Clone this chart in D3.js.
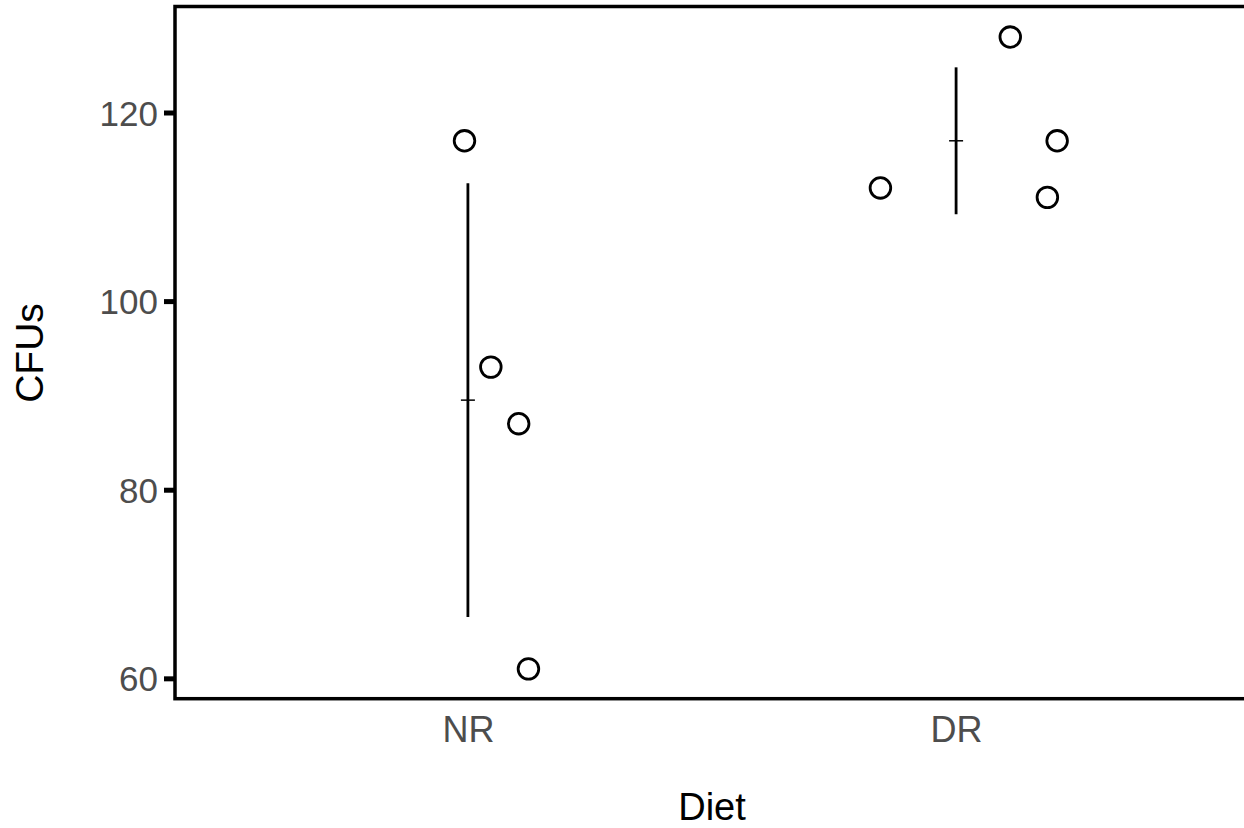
<!DOCTYPE html>
<html>
<head>
<meta charset="utf-8">
<script src="https://cdn.jsdelivr.net/npm/d3@7"></script>
<style>
  html, body { margin: 0; padding: 0; background: #fff; }
  svg { display: block; }
  text { font-family: "Liberation Sans", Arial, sans-serif; }
</style>
</head>
<body>
<svg id="chart" width="1244" height="828"></svg>
<script>
// ---- data ----
const categories = ["NR", "DR"];
const nrValues = [117, 93, 87, 61];
const drValues = [112, 128, 117, 111];
// horizontal jitter of each point (fraction of category step)
const nrJitter = [-0.007, 0.047, 0.104, 0.124];
const drJitter = [-0.155, 0.111, 0.207, 0.187];
const yTicks = [60, 80, 100, 120];
const yLimits = [57.84, 131.24];
const xTitle = "Diet";
const yTitle = "CFUs";

const points = [
  ...nrValues.map((v, i) => ({ cat: "NR", value: v, jit: nrJitter[i] })),
  ...drValues.map((v, i) => ({ cat: "DR", value: v, jit: drJitter[i] }))
];
const groups = [
  { cat: "NR", vals: nrValues },
  { cat: "DR", vals: drValues }
].map(g => {
  const m = d3.mean(g.vals), s = d3.deviation(g.vals);
  return { cat: g.cat, mean: m, lo: m - s, hi: m + s };
});

// ---- layout ----
const pLeft = 175, pRight = 1249, pTop = 6.5, pBottom = 698.7;
const svg = d3.select("#chart");

const x = d3.scalePoint().domain(categories).range([pLeft, pRight]).padding(0.6);
const y = d3.scaleLinear().domain(yLimits).range([pBottom, pTop]);

// y axis
const yAxis = svg.append("g")
  .attr("transform", `translate(${pLeft},0)`)
  .call(d3.axisLeft(y).tickValues(yTicks).tickSize(11).tickPadding(6));
yAxis.select(".domain").remove();
yAxis.selectAll(".tick line").attr("stroke", "#000").attr("stroke-width", 5);
yAxis.selectAll(".tick text")
  .attr("fill", "#4d4d4d").style("font-size", "35px").attr("dy", "0.36em");

// x axis (labels only)
const xAxis = svg.append("g")
  .attr("transform", `translate(0,${pBottom})`)
  .call(d3.axisBottom(x).tickSize(0).tickPadding(0));
xAxis.select(".domain").remove();
xAxis.selectAll(".tick text")
  .attr("fill", "#4d4d4d").style("font-size", "36px")
  .attr("dy", null).attr("y", 43);

// panel border
svg.append("rect")
  .attr("x", pLeft).attr("y", pTop)
  .attr("width", pRight - pLeft).attr("height", pBottom - pTop)
  .attr("fill", "none").attr("stroke", "#000").attr("stroke-width", 3.5);

// sd bars
svg.selectAll(".sd").data(groups).join("line")
  .attr("class", "sd")
  .attr("x1", d => x(d.cat)).attr("x2", d => x(d.cat))
  .attr("y1", d => y(d.lo)).attr("y2", d => y(d.hi))
  .attr("stroke", "#000").attr("stroke-width", 2.8);

// mean ticks
svg.selectAll(".mean").data(groups).join("line")
  .attr("class", "mean")
  .attr("x1", d => x(d.cat) - 7).attr("x2", d => x(d.cat) + 7)
  .attr("y1", d => y(d.mean)).attr("y2", d => y(d.mean))
  .attr("stroke", "#000").attr("stroke-width", 1.5);

// points
svg.selectAll(".pt").data(points).join("circle")
  .attr("class", "pt")
  .attr("cx", d => x(d.cat) + d.jit * x.step())
  .attr("cy", d => y(d.value))
  .attr("r", 10.3)
  .attr("fill", "none").attr("stroke", "#000").attr("stroke-width", 2.8);

// titles
svg.append("text")
  .attr("x", (pLeft + pRight) / 2).attr("y", 820)
  .attr("text-anchor", "middle").style("font-size", "38px").attr("fill", "#000")
  .text(xTitle);
svg.append("text")
  .attr("transform", `translate(43,353) rotate(-90)`)
  .attr("text-anchor", "middle").style("font-size", "39px").attr("fill", "#000")
  .text(yTitle);
</script>
</body>
</html>
